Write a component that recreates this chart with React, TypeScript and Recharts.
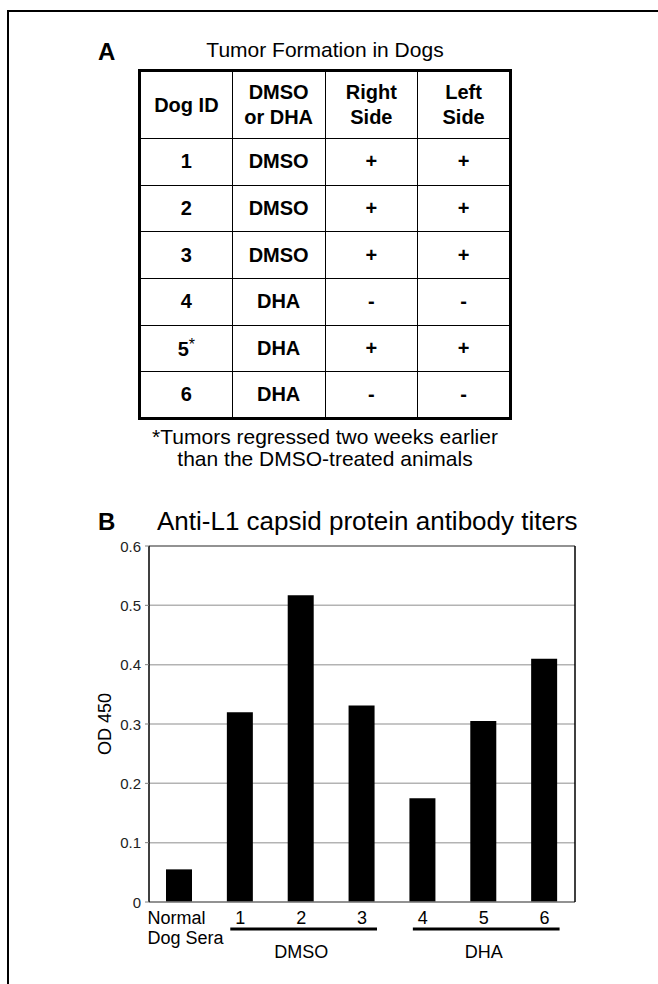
import React from 'react';
import { BarChart, Bar, XAxis, YAxis, CartesianGrid, ReferenceLine } from 'recharts';

const FONT = 'Arial, "Liberation Sans", Helvetica, sans-serif';

// Panel A: tumor formation table
const tableHeaders = [['Dog ID'], ['DMSO', 'or DHA'], ['Right', 'Side'], ['Left', 'Side']];
const dogIds = ['1', '2', '3', '4', '5', '6'];
const earlyRegression = ['5'];
const treatments = ['DMSO', 'DMSO', 'DMSO', 'DHA', 'DHA', 'DHA'];
const rightSide = ['+', '+', '+', '-', '+', '-'];
const leftSide = ['+', '+', '+', '-', '+', '-'];
const footnote = ['*Tumors regressed two weeks earlier', 'than the DMSO-treated animals'];

// Panel B: antibody titers
const sampleLabels = ['Normal Dog Sera', '1', '2', '3', '4', '5', '6'];
const od450 = [0.055, 0.32, 0.517, 0.331, 0.175, 0.305, 0.41];
const yTicks = [0, 0.1, 0.2, 0.3, 0.4, 0.5, 0.6];
const groupLabels = ['DMSO', 'DHA'];
const groupMiddles = ['2', '5'];

const chartData = sampleLabels.map((name, i) => ({ name, od: od450[i] }));

const CHART_W = 658;
const CHART_H = 484;
const MARGIN = { top: 46, right: 82, bottom: 22, left: 89 };
const Y_AXIS_W = 60;
const BAND = (CHART_W - MARGIN.left - MARGIN.right - Y_AXIS_W - 1) / sampleLabels.length;

const SampleTick = ({ x, y, payload }: any) => {
  const value: string = payload.value;
  if (value === 'Normal Dog Sera') {
    return (
      <g fontFamily={FONT} fontSize={18} fill="#000">
        <text x={x - 32} y={y + 22} textAnchor="start">Normal</text>
        <text x={x - 32} y={y + 42} textAnchor="start">Dog Sera</text>
      </g>
    );
  }
  const gi = groupMiddles.indexOf(value);
  return (
    <g fontFamily={FONT} fontSize={18} fill="#000">
      <text x={x} y={y + 22} textAnchor="middle">{value}</text>
      {gi >= 0 && (
        <>
          <line x1={x - BAND - 10} x2={x + BAND + 15} y1={y + 27} y2={y + 27} stroke="#000" strokeWidth={3} />
          <text x={x} y={y + 56} textAnchor="middle">{groupLabels[gi]}</text>
        </>
      )}
    </g>
  );
};

const ValueTick = ({ x, y, payload }: any) => (
  <text x={x} y={y} textAnchor="end" dominantBaseline="central" fontFamily={FONT} fontSize={15} fill="#222">
    {payload.value === 0 ? '0' : payload.value.toFixed(1)}
  </text>
);

const YLabel = ({ viewBox }: any) => {
  const cx = viewBox.x + 16;
  const cy = viewBox.y + viewBox.height / 2;
  return (
    <text x={cx} y={cy} transform={`rotate(-90 ${cx} ${cy})`} textAnchor="middle" dominantBaseline="central"
      fontFamily={FONT} fontSize={18} fill="#000">
      OD 450
    </text>
  );
};

const cellBorder = '1.5px solid #000';

export default function App() {
  return (
    <div style={{ position: 'absolute', left: 0, top: 0, width: 658, height: 984, overflow: 'hidden', background: '#fff', fontFamily: FONT }}>
      {/* outer frame, cut off by the page edge */}
      <div style={{ position: 'absolute', left: 7, top: 10, width: 700, height: 1000, border: '2px solid #000', boxSizing: 'border-box' }} />

      <div style={{ position: 'absolute', left: 98, top: 40, fontSize: 24, fontWeight: 700, lineHeight: 1 }}>A</div>
      <div style={{ position: 'absolute', left: 138, top: 39, width: 374, textAlign: 'center', fontSize: 21, lineHeight: 1 }}>
        Tumor Formation in Dogs
      </div>

      <table style={{ position: 'absolute', left: 138, top: 69, width: 374, height: 348, borderCollapse: 'collapse', border: '3px solid #000',
        fontFamily: FONT, fontWeight: 700, fontSize: 20, textAlign: 'center', tableLayout: 'fixed' }}>
        <thead>
          <tr style={{ height: 68 }}>
            {tableHeaders.map((h, i) => (
              <th key={i} style={{ border: cellBorder, lineHeight: '25px', padding: 0 }}>
                {h.map((line, j) => <div key={j}>{line}</div>)}
              </th>
            ))}
          </tr>
        </thead>
        <tbody>
          {dogIds.map((id, i) => (
            <tr key={id} style={{ height: 46.7 }}>
              <td style={{ border: cellBorder, padding: 0 }}>
                {id}
                {earlyRegression.includes(id) && <span style={{ fontWeight: 400, fontSize: 16, verticalAlign: 6 }}>*</span>}
              </td>
              <td style={{ border: cellBorder, padding: 0 }}>{treatments[i]}</td>
              <td style={{ border: cellBorder, padding: 0 }}>{rightSide[i]}</td>
              <td style={{ border: cellBorder, padding: 0 }}>{leftSide[i]}</td>
            </tr>
          ))}
        </tbody>
      </table>

      <div style={{ position: 'absolute', left: 100, top: 426, width: 450, textAlign: 'center', fontSize: 21, lineHeight: '22px' }}>
        {footnote.map((line, i) => <div key={i}>{line}</div>)}
      </div>

      <div style={{ position: 'absolute', left: 98, top: 510, fontSize: 24, fontWeight: 700, lineHeight: 1 }}>B</div>
      <div style={{ position: 'absolute', left: 157, top: 508, fontSize: 26, lineHeight: 1, whiteSpace: 'nowrap' }}>
        Anti-L1 capsid protein antibody titers
      </div>

      <div style={{ position: 'absolute', left: 0, top: 500 }}>
        <BarChart width={CHART_W} height={CHART_H} data={chartData} margin={MARGIN}>
          <CartesianGrid horizontal vertical={false} stroke="#b3b3b3" strokeWidth={1.5} />
          <XAxis dataKey="name" height={60} tickLine={false} tickSize={0} tickMargin={0} interval={0}
            axisLine={{ stroke: '#808080', strokeWidth: 1.5 }} tick={<SampleTick />} />
          <YAxis domain={[0, 0.6]} ticks={yTicks} width={Y_AXIS_W} tickSize={4} tickMargin={4}
            axisLine={{ stroke: '#000', strokeWidth: 1.5 }} tickLine={{ stroke: '#808080' }}
            tick={<ValueTick />} label={{ content: <YLabel /> }} />
          <YAxis yAxisId="right" orientation="right" domain={[0, 0.6]} width={1} tick={false} tickLine={false}
            axisLine={{ stroke: '#000', strokeWidth: 1.5 }} />
          <ReferenceLine y={0.6} stroke="#808080" strokeWidth={1.5} />
          <Bar dataKey="od" fill="#000" barSize={26} isAnimationActive={false} />
        </BarChart>
      </div>
    </div>
  );
}
